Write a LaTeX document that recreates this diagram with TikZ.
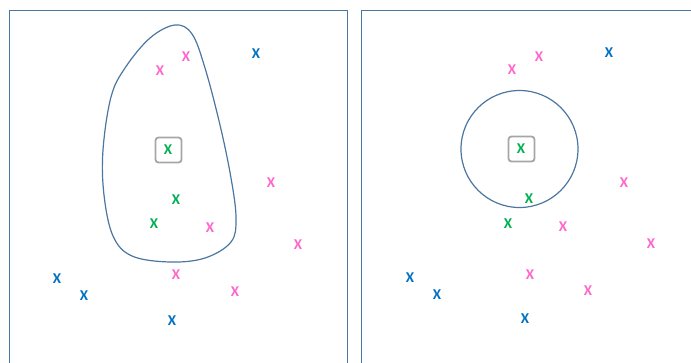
\documentclass[tikz,border=0pt]{standalone}
\usepackage{fontspec}
\setmainfont{Carlito}
\definecolor{frame}{HTML}{4A76A0}
\definecolor{pk}{HTML}{FF66CC}
\definecolor{bl}{HTML}{0070C0}
\definecolor{gr}{HTML}{00B050}
\definecolor{gbox}{HTML}{A6A6A6}
\tikzset{
  mk/.style={inner sep=0pt, font=\fontsize{15}{15}\selectfont\bfseries},
  pkx/.style={mk, text=pk},
  blx/.style={mk, text=bl},
  grx/.style={mk, text=gr},
  sel/.style={draw=gbox, line width=1.8pt, rounded corners=3pt, minimum width=26pt, minimum height=25pt, inner sep=0pt},
  panel/.style={draw=frame, line width=1pt},
  region/.style={draw=frame, line width=1.2pt}
}
\begin{document}
\begin{tikzpicture}[x=1pt,y=-1pt]
\useasboundingbox (0,0) rectangle (691,362);
\clip (0,0) rectangle (691,362);
\draw[panel] (9,10) rectangle (347,380);
\draw[panel] (361.5,10) rectangle (720,380);
% left panel region
\draw[region] plot[smooth cycle, tension=0.6] coordinates {
 (175,25) (192,34) (205,68) (220,125) (231,178) (236,218) (231,242) (205,258)
 (170,262) (132,256) (113,236) (104,195) (103,150) (111,97) (125,68) (150,38)};
% left panel marks
\node[sel] (lsel) at (168.5,150) {};
\node[grx] (lg1) at (168,150) {X};
\node[grx] (lg2) at (176,200) {X};
\node[grx] (lg3) at (154,224) {X};
\node[pkx] (lp1) at (160,71) {X};
\node[pkx] (lp2) at (186,57) {X};
\node[pkx] (lp3) at (271,183) {X};
\node[pkx] (lp4) at (210,228) {X};
\node[pkx] (lp5) at (298,245) {X};
\node[pkx] (lp6) at (176,275) {X};
\node[pkx] (lp7) at (235,292) {X};
\node[blx] (lb1) at (256,54) {X};
\node[blx] (lb2) at (57,279) {X};
\node[blx] (lb3) at (84,296) {X};
\node[blx] (lb4) at (172,321) {X};
% right panel
\node[region, circle, minimum size=117pt, inner sep=0pt] (circ) at (519.5,149) {};
\node[sel] (rsel) at (521.5,149) {};
\node[grx] (rg1) at (521,149) {X};
\node[grx] (rg2) at (529,199) {X};
\node[grx] (rg3) at (508,224) {X};
\node[pkx] (rp1) at (512,70) {X};
\node[pkx] (rp2) at (539,57) {X};
\node[pkx] (rp3) at (624,183) {X};
\node[pkx] (rp4) at (563,227) {X};
\node[pkx] (rp5) at (651,244) {X};
\node[pkx] (rp6) at (530,275) {X};
\node[pkx] (rp7) at (588,291) {X};
\node[blx] (rb1) at (609,53) {X};
\node[blx] (rb2) at (410,278) {X};
\node[blx] (rb3) at (437,295) {X};
\node[blx] (rb4) at (525,319) {X};
\end{tikzpicture}
\end{document}
